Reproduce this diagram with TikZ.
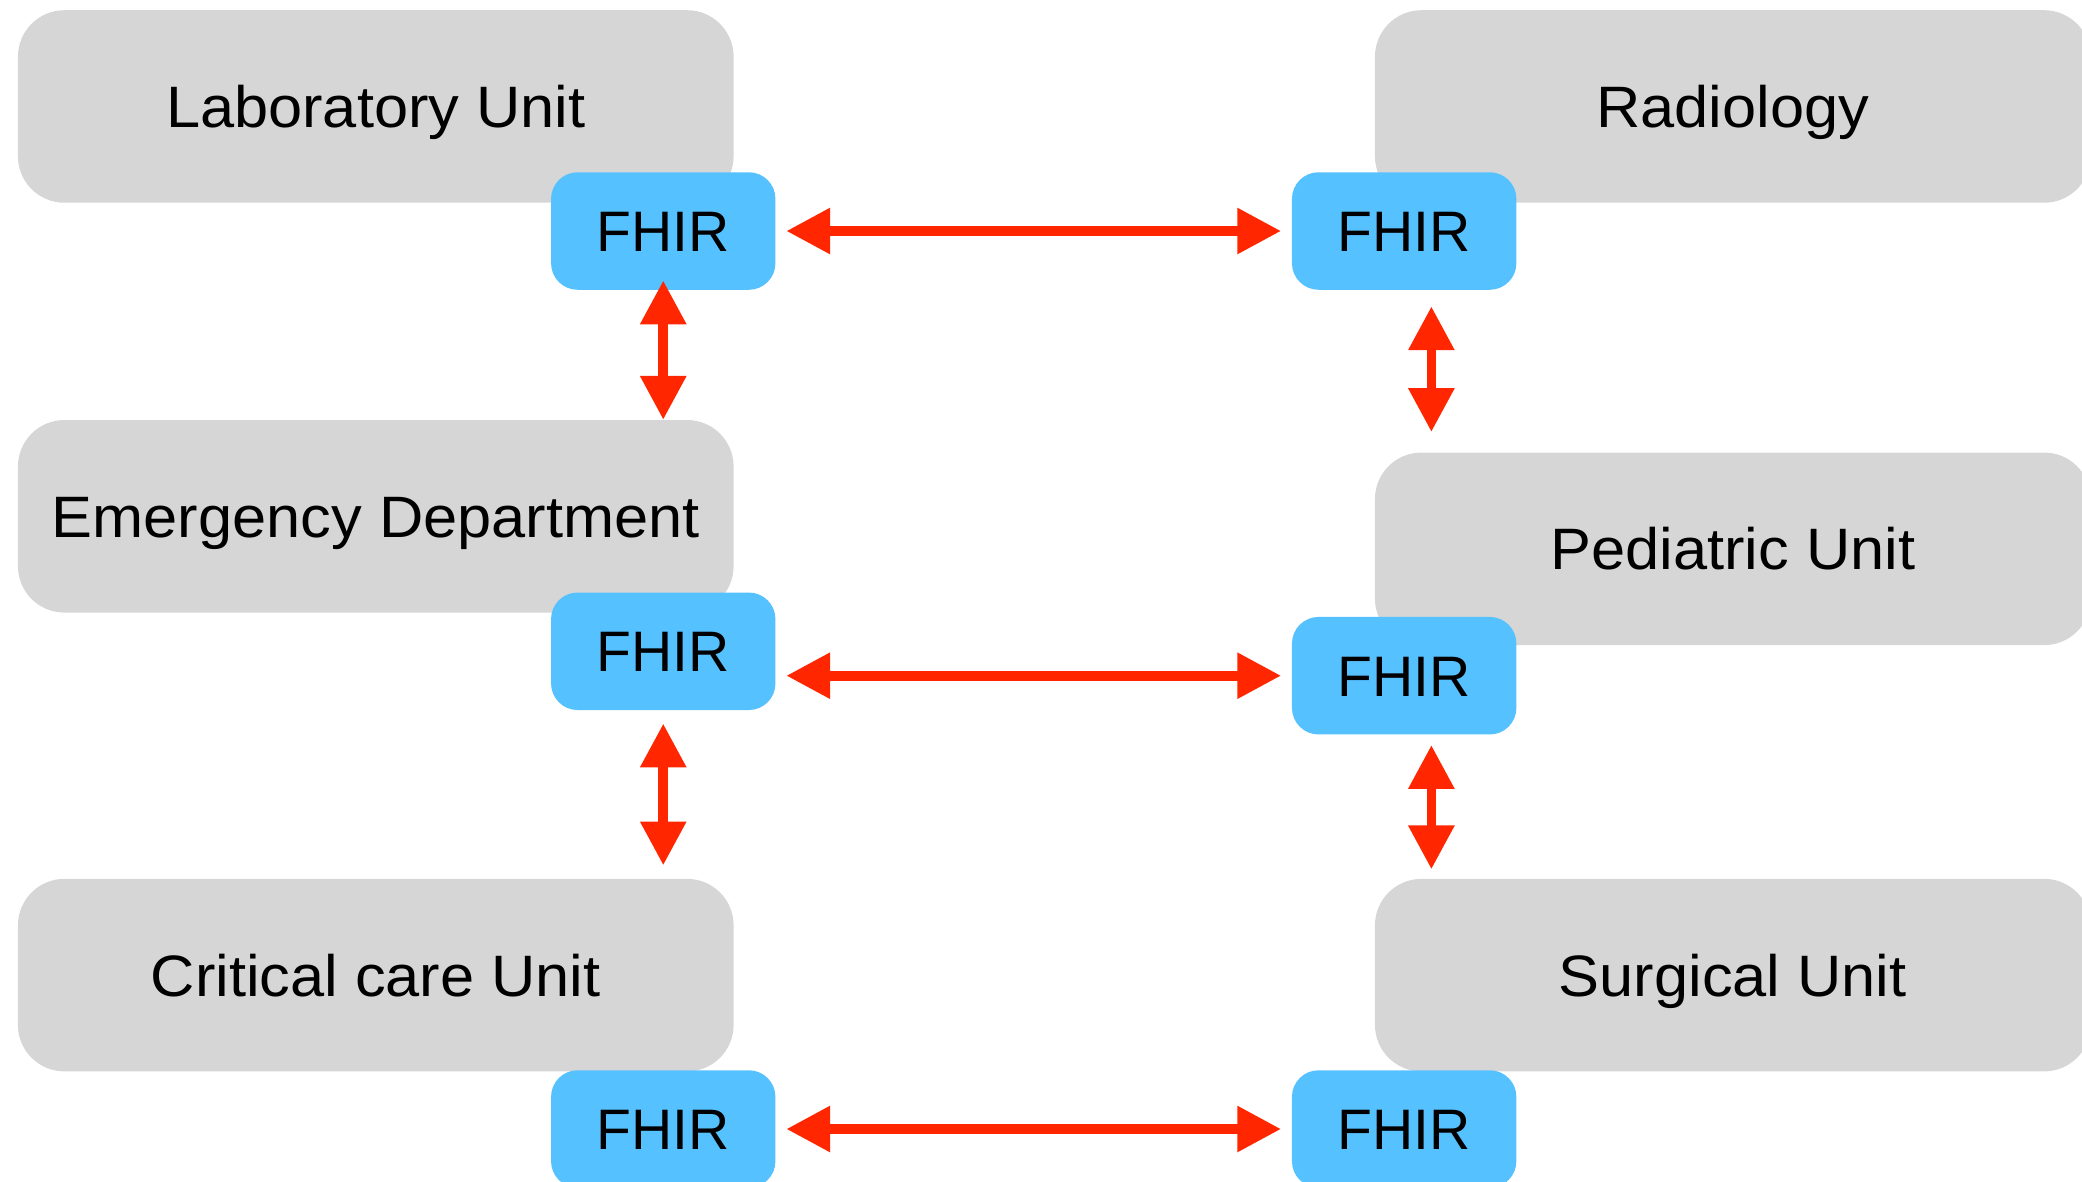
\documentclass[tikz,border=0pt]{standalone}
\usepackage{fontspec}
\setmainfont{Liberation Sans}
\newfontfamily\unitfont[FakeStretch=1.05]{Liberation Sans}
\newfontfamily\fhirfont{Liberation Sans}
\usetikzlibrary{arrows.meta,calc}
\definecolor{unitgray}{HTML}{D6D6D6}
\definecolor{fhirblue}{HTML}{56C1FF}
\definecolor{linkred}{HTML}{FF2600}
\tikzset{
  unitbox/.style={fill=unitgray, draw=none, rounded corners=35pt,
    minimum width=539pt, minimum height=145pt, inner sep=0pt,
    font=\unitfont\fontsize{44pt}{44pt}\selectfont,
    text height=31.5pt, text depth=0pt},
  fhirbox/.style={fill=fhirblue, draw=none, rounded corners=20pt,
    minimum width=169pt, minimum height=88.5pt, inner sep=0pt,
    font=\fhirfont\fontsize{43pt}{43pt}\selectfont,
    text height=30.8pt, text depth=0pt},
  link/.style={draw=linkred, line width=7.3pt,
    {Triangle[length=33pt,width=33pt]}-{Triangle[length=33pt,width=33pt]}}
}
\begin{document}
\begin{tikzpicture}[x=1pt,y=1pt]
\useasboundingbox (0,0) rectangle (1568,890);
% unit boxes
\node[unitbox] (lab)  at (283,809.8)  {Laboratory Unit};
\node[unitbox] (emerg) at (283,501.15) {Emergency Department};
\node[unitbox] (crit) at (283,155.6)  {Critical care Unit};
\node[unitbox] (radio) at (1305,809.8) {Radiology};
\node[unitbox] (pedi) at (1305,476.65) {Pediatric Unit};
\node[unitbox] (surg) at (1305,155.6)  {Surgical Unit};
% FHIR boxes
\node[fhirbox] (fL1) at (499.5,716)   {FHIR};
\node[fhirbox] (fL2) at (499.5,399.5) {FHIR};
\node[fhirbox] (fL3) at (499.5,39.7)  {FHIR};
\node[fhirbox] (fR1) at (1057.5,716)   {FHIR};
\node[fhirbox] (fR2) at (1057.5,381.1) {FHIR};
\node[fhirbox] (fR3) at (1057.5,39.7)  {FHIR};
% horizontal links
\draw[link, shorten <=8pt, shorten >=8pt] (fL1.east) -- (fR1.west);
\draw[link, shorten <=8pt, shorten >=8pt] (fL2.east |- fR2.west) -- (fR2.west);
\draw[link, shorten <=8pt, shorten >=8pt] (fL3.east) -- (fR3.west);
% vertical links
\draw[link] ($(fL1.south)+(0,7.2)$) -- (emerg.north -| fL1.south);
\draw[link, shorten <=10pt, shorten >=10pt] (fL2.south) -- (crit.north -| fL2.south);
\coordinate (r1top) at ($(fR1.south)+(20.5,-12.3)$);
\coordinate (r1bot) at ($(pedi.north -| r1top)+(0,15.3)$);
\draw[link] (r1top) -- (r1bot);
\coordinate (r2top) at ($(fR2.south)+(20.5,-7.8)$);
\coordinate (r2bot) at ($(surg.north -| r2top)+(0,7)$);
\draw[link] (r2top) -- (r2bot);
\end{tikzpicture}
\end{document}
